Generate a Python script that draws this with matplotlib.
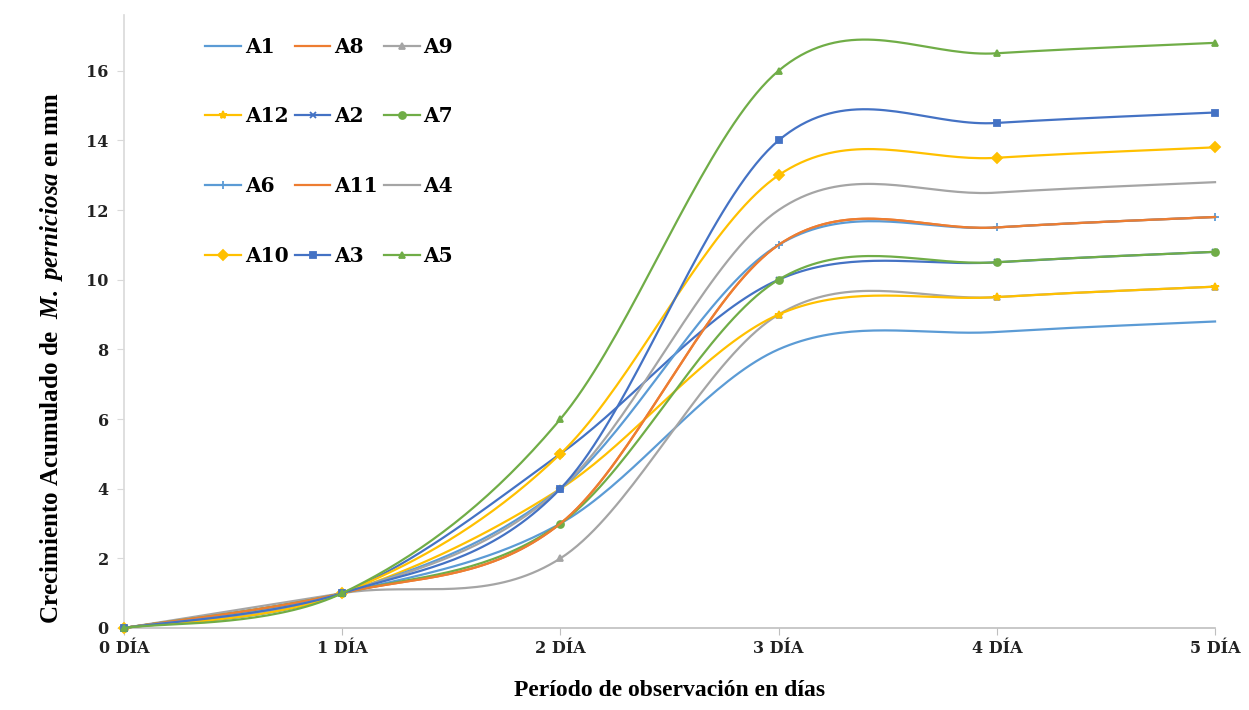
import matplotlib
matplotlib.use("Agg")
import matplotlib.pyplot as plt
import numpy as np

plt.rcParams.update({
    "mathtext.fontset": "custom",
    "mathtext.it": "Liberation Serif:italic:bold",
    "mathtext.rm": "Liberation Serif:bold",
})

# data (series in Excel order = legend order)
days = [0, 1, 2, 3, 4, 5]
day_labels = ["0 DÍA", "1 DÍA", "2 DÍA", "3 DÍA", "4 DÍA", "5 DÍA"]
names = ["A1", "A8", "A9", "A12", "A2", "A7", "A6", "A11", "A4", "A10", "A3", "A5"]

A1  = [0, 1, 3, 8, 8.5, 8.8]
A8  = [0, 1, 3, 11, 11.5, 11.8]
A9  = [0, 1, 2, 9, 9.5, 9.8]
A12 = [0, 1, 4, 9, 9.5, 9.8]
A2  = [0, 1, 5, 10, 10.5, 10.8]
A7  = [0, 1, 3, 10, 10.5, 10.8]
A6  = [0, 1, 4, 11, 11.5, 11.8]
A11 = [0, 1, 3, 11, 11.5, 11.8]
A4  = [0, 1, 4, 12, 12.5, 12.8]
A10 = [0, 1, 5, 13, 13.5, 13.8]
A3  = [0, 1, 4, 14, 14.5, 14.8]
A5  = [0, 1, 6, 16, 16.5, 16.8]
series = [A1, A8, A9, A12, A2, A7, A6, A11, A4, A10, A3, A5]

palette = ["#5B9BD5", "#ED7D31", "#A5A5A5", "#FFC000", "#4472C4", "#70AD47"]
markers = [None, None, "^", "*", "x", "o", "+", None, None, "D", "s", "^"]
msizes  = [0, 0, 5, 6, 5, 5, 6, 0, 0, 5, 5, 5]


def smooth(x, y, n=40):
    # Excel-like smoothed line: Catmull-Rom turned into cubic Bezier pieces
    pts = np.column_stack([x, y]).astype(float)
    P = np.vstack([pts[0], pts, pts[-1]])
    t = np.linspace(0, 1, n)[:, None]
    out = []
    for i in range(len(pts) - 1):
        p0, p1, p2, p3 = P[i], P[i + 1], P[i + 2], P[i + 3]
        c1 = p1 + (p2 - p0) / 6
        c2 = p2 - (p3 - p1) / 6
        seg = (1 - t) ** 3 * p1 + 3 * (1 - t) ** 2 * t * c1 + 3 * (1 - t) * t ** 2 * c2 + t ** 3 * p2
        out.append(seg if i == 0 else seg[1:])
    return np.vstack(out)


fig = plt.figure(figsize=(12.49, 7.10), dpi=100)
ax = fig.add_axes([0.0993, 0.1155, 0.8735, 0.8634])

handles = []
for k, (name, vals) in enumerate(zip(names, series)):
    col = palette[k % 6]
    curve = smooth(days, vals)
    ax.plot(curve[:, 0], curve[:, 1], color=col, lw=1.6, zorder=2 + k,
            clip_on=False)
    if markers[k] is not None:
        ax.plot(days, vals, ls="none", marker=markers[k], ms=msizes[k],
                color=col, mec=col, mew=1.3, zorder=2 + k, clip_on=False)
    h, = ax.plot([], [], color=col, lw=1.6, marker=markers[k],
                 ms=msizes[k], mew=1.3, label=name)
    handles.append(h)

ax.set_xlim(0, 5)
ax.set_ylim(0, 17.6)
ax.set_xticks(days)
ax.set_xticklabels(day_labels)
ax.set_yticks(range(0, 17, 2))
for lab in ax.get_xticklabels() + ax.get_yticklabels():
    lab.set_family("DejaVu Serif")
    lab.set_fontweight("bold")
    lab.set_fontsize(11.5)
    lab.set_color("#222222")

ax.spines["top"].set_visible(False)
ax.spines["right"].set_visible(False)
ax.spines["left"].set_color("#D9D9D9")
ax.spines["bottom"].set_color("#BFBFBF")
ax.spines["left"].set_linewidth(1.2)
ax.spines["bottom"].set_linewidth(1.2)
ax.tick_params(axis="y", length=5, color="#D9D9D9", pad=6)
ax.tick_params(axis="x", length=5, color="#BFBFBF", pad=4)

ax.set_ylabel(r"Crecimiento Acumulado de  $\mathit{M.\ perniciosa}$ en mm",
              family="Liberation Serif", fontweight="bold", fontsize=18)
ax.yaxis.set_label_coords(-0.054, 0.44)
ax.set_xlabel("Período de observación en días", family="Liberation Serif",
              fontweight="bold", fontsize=17, labelpad=16)

# legend laid out row-wise: A1 A8 A9 / A12 A2 A7 / A6 A11 A4 / A10 A3 A5
order = [0, 3, 6, 9, 1, 4, 7, 10, 2, 5, 8, 11]
leg = ax.legend([handles[i] for i in order], [names[i] for i in order],
                ncol=3, loc="upper left", bbox_to_anchor=(0.150, 0.974),
                bbox_transform=fig.transFigure, frameon=False,
                prop={"family": "DejaVu Serif", "weight": "bold", "size": 14.5},
                handlelength=1.75, handletextpad=0.2, columnspacing=0.32,
                labelspacing=2.47)

fig.savefig("out.png", dpi=100)
